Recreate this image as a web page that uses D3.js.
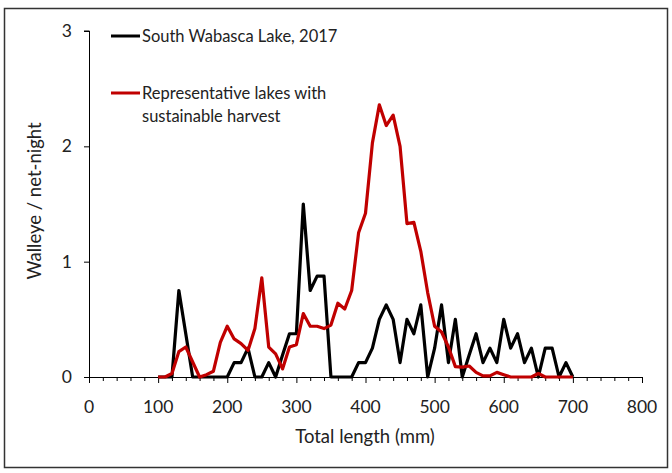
<!DOCTYPE html>
<meta charset="utf-8">
<style>
  body { margin: 0; background: #fff; }
  svg { display: block; font-family: Lato, "Open Sans", sans-serif; }
  .tick-label { font-size: 17.5px; fill: #222; }
  .axis-title { font-size: 18.5px; fill: #222; }
  .legend-text { font-size: 16.5px; fill: #222; }
  .series { fill: none; stroke-width: 3.2px; stroke-linejoin: round; }
</style>
<body>
<div id="vis"></div>
<script src="https://cdn.jsdelivr.net/npm/d3@7/dist/d3.min.js"></script>
<script>

const width = 672,
    height = 473;

// total length bins (mm)
const lengths = [100, 110, 120, 130, 140, 150, 160, 170, 180, 190,
  200, 210, 220, 230, 240, 250, 260, 270, 280, 290,
  300, 310, 320, 330, 340, 350, 360, 370, 380, 390,
  400, 410, 420, 430, 440, 450, 460, 470, 480, 490,
  500, 510, 520, 530, 540, 550, 560, 570, 580, 590,
  600, 610, 620, 630, 640, 650, 660, 670, 680, 690, 700];

// South Wabasca Lake, 2017
const wabasca = [0, 0, 0, 0.75, 0.375, 0, 0, 0, 0, 0,
  0, 0.125, 0.125, 0.25, 0, 0, 0.125, 0, 0.19, 0.375,
  0.375, 1.5, 0.75, 0.875, 0.875, 0, 0, 0, 0, 0.125,
  0.125, 0.25, 0.5, 0.625, 0.5, 0.125, 0.5, 0.375, 0.625, 0,
  0.25, 0.625, 0.125, 0.5, 0, 0.19, 0.375, 0.125, 0.25, 0.125,
  0.5, 0.25, 0.375, 0.125, 0.25, 0, 0.25, 0.25, 0, 0.125, 0];

// Representative lakes with sustainable harvest
const representative = [0, 0, 0.03, 0.22, 0.26, 0.13, 0, 0.02, 0.05, 0.3,
  0.44, 0.33, 0.29, 0.23, 0.42, 0.86, 0.26, 0.2, 0.07, 0.26,
  0.28, 0.55, 0.44, 0.44, 0.42, 0.45, 0.64, 0.59, 0.75, 1.25,
  1.42, 2.03, 2.36, 2.18, 2.27, 2.0, 1.33, 1.34, 1.09, 0.73,
  0.44, 0.39, 0.26, 0.09, 0.085, 0.095, 0.04, 0.01, 0.01, 0.04,
  0.02, 0, 0, 0, 0, 0.03, 0, 0, 0, 0, 0];

const xTicks = [0, 100, 200, 300, 400, 500, 600, 700, 800];
const yTicks = [0, 1, 2, 3];

const series = [
  {name: 'South Wabasca Lake, 2017', values: wabasca, color: '#000'},
  {name: 'Representative lakes with|sustainable harvest', values: representative, color: '#c00000'}
];

let x = d3.scaleLinear().domain([0, 800]).range([89, 642]);
let y = d3.scaleLinear().domain([0, 3]).range([377, 31]);

let svg = d3.select('#vis')
    .append('svg')
    .attr('width', width)
    .attr('height', height);

// outer frame
svg.append('rect')
    .attr('x', 4.5).attr('y', 8.5)
    .attr('width', 663).attr('height', 459)
    .style('fill', 'none')
    .style('stroke', '#333')
    .style('stroke-width', 1.5);

// x axis: minor ticks every 20, labels every 100
let xAxis = d3.axisBottom(x)
    .tickValues(d3.range(0, 801, 20))
    .tickSize(4)
    .tickFormat('');
let xg = svg.append('g')
    .attr('transform', 'translate(0,' + y(0) + ')')
    .call(xAxis);
xg.select('.domain').attr('d', 'M' + x(0) + ',0.5H' + x(800)).style('stroke', '#000');
xg.selectAll('.tick line').style('stroke', '#000').attr('y2', d => (d % 100 === 0 ? 6 : 4));

svg.selectAll('.x-label')
    .data(xTicks)
    .enter().append('text')
    .attr('class', 'tick-label x-label')
    .attr('x', d => x(d))
    .attr('y', 413)
    .attr('text-anchor', 'middle')
    .text(d => d);

// y axis
let yAxis = d3.axisLeft(y)
    .tickValues(yTicks)
    .tickSize(5)
    .tickFormat('');
let yg = svg.append('g')
    .attr('transform', 'translate(' + x(0) + ',0)')
    .call(yAxis);
yg.select('.domain').attr('d', 'M-5,' + y(3) + 'H0.5V' + y(0)).style('stroke', '#000');
yg.selectAll('.tick line').style('stroke', '#000');

svg.selectAll('.y-label')
    .data(yTicks)
    .enter().append('text')
    .attr('class', 'tick-label y-label')
    .attr('x', 72)
    .attr('y', d => y(d))
    .attr('dy', '0.35em')
    .attr('text-anchor', 'end')
    .text(d => d);

// axis titles
svg.append('text')
    .attr('class', 'axis-title')
    .attr('x', 365)
    .attr('y', 443)
    .attr('text-anchor', 'middle')
    .text('Total length (mm)');
svg.append('text')
    .attr('class', 'axis-title')
    .attr('transform', 'translate(41,201) rotate(-90)')
    .attr('text-anchor', 'middle')
    .text('Walleye / net-night');

// series lines
let line = d3.line()
    .x((d, i) => x(lengths[i]))
    .y(d => y(d));

svg.selectAll('.series')
    .data(series)
    .enter().append('path')
    .attr('class', 'series')
    .style('stroke', d => d.color)
    .attr('d', d => line(d.values));

// legend
let legY = [36, 93];
let leg = svg.selectAll('.legend')
    .data(series)
    .enter().append('g')
    .attr('class', 'legend')
    .attr('transform', (d, i) => 'translate(111,' + legY[i] + ')');
leg.append('line')
    .attr('x1', 0).attr('x2', 29)
    .style('stroke', d => d.color)
    .style('stroke-width', 3);
leg.append('text')
    .attr('class', 'legend-text')
    .attr('x', 31)
    .each(function(d) {
      let parts = d.name.split('|');
      let t = d3.select(this);
      parts.forEach((p, k) => {
        t.append('tspan')
          .attr('x', 31)
          .attr('dy', k === 0 ? '0.35em' : '1.4em')
          .text(p);
      });
    });

</script>
</body>
